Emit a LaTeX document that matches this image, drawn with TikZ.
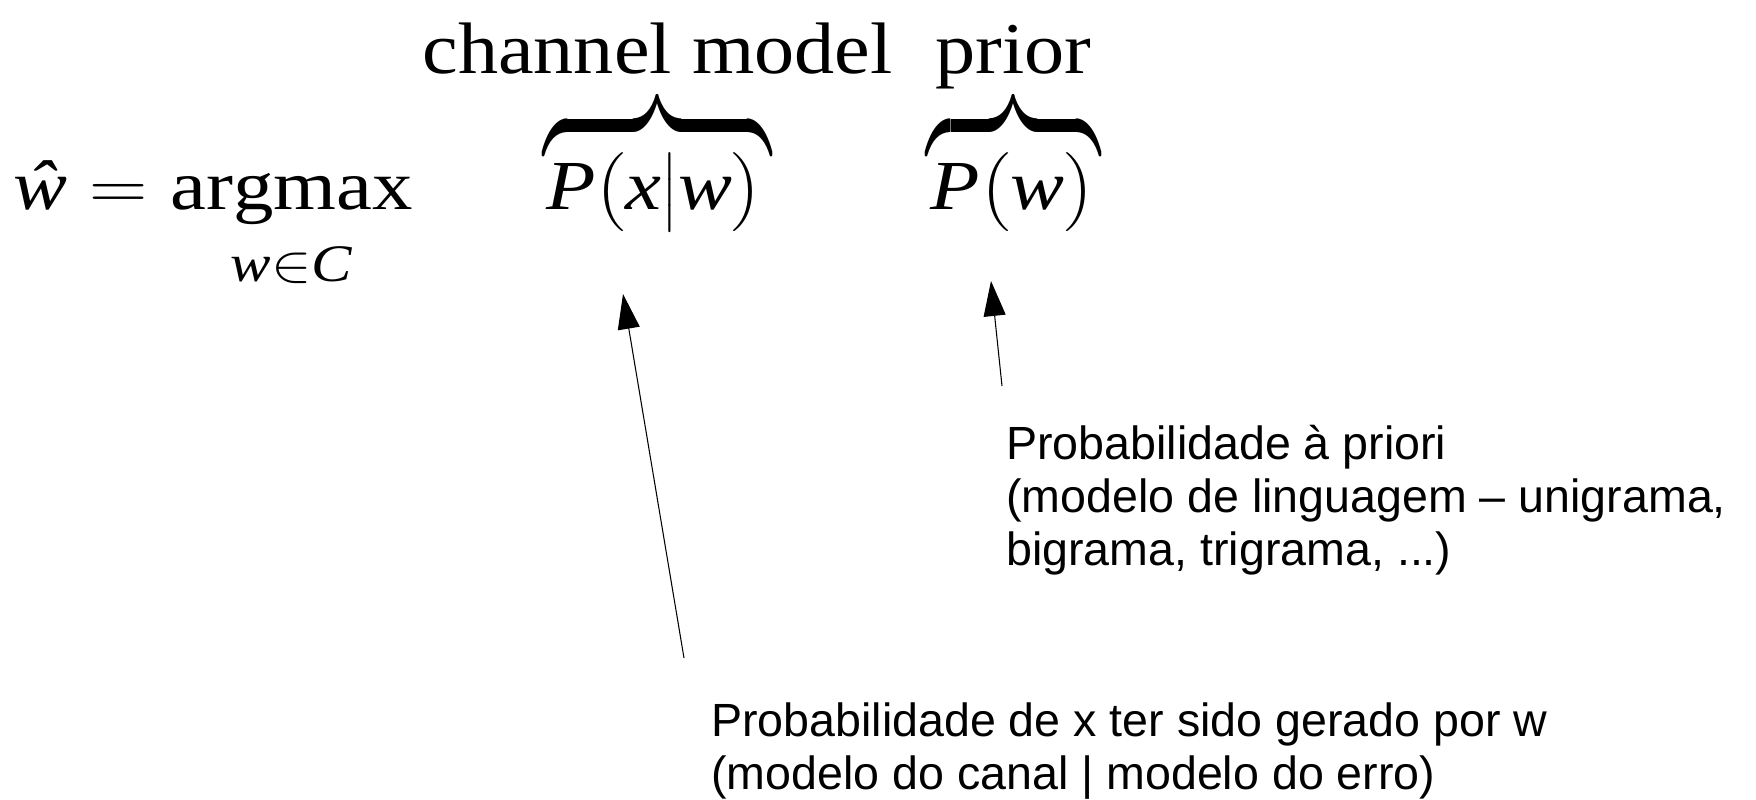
\RequirePackage{fix-cm}
\documentclass[tikz,border=0pt]{standalone}
\usepackage{amsmath}
\usepackage{fontspec}
\setmainfont{Liberation Serif}
\newfontfamily\notefont{Liberation Sans}
\usetikzlibrary{arrows.meta}
\begin{document}
\begin{tikzpicture}[
	formula/.style={inner sep=0pt, font=\fontsize{40}{48}\selectfont, xscale=1.15, transform shape},
	bracebox/.style={formula, xscale=1.06, yscale=2.6},
	lbl/.style={inner sep=0pt, font=\fontsize{41.5}{48}\selectfont, xscale=1.1, transform shape},
	note/.style={inner sep=0pt, align=left, font=\notefont\fontsize{26.5}{30.4}\selectfont},
	arr/.style={-{Triangle[length=0.7cm,width=0.44cm]}, line width=0.6pt}]
	\useasboundingbox (0,0) rectangle (35.12,16);
	% the formula
	\node[formula, anchor=base west] (lhs) at (0.26,11.8) {$\displaystyle\mbox{\itshape ŵ} = \operatorname*{argmax}_{\mbox{\fontsize{30}{30}\selectfont\rule{0pt}{28pt}$\mathit{w}{\in}\mathit{C}$}}$};
	\node[formula, anchor=base] (pxw) at (13.08,11.8) {$\mathit{P}\bigl(\mathit{x}\big|\mathit{w}\bigr)$};
	\node[formula, anchor=base] (pw) at (20.25,11.8) {$\mathit{P}\bigl(\mathit{w}\bigr)$};
	\node[bracebox, anchor=south] (brc1) at (13.15,13.06) {$\overbrace{\hphantom{\mathit{P}\bigl(\mathit{x}\big|\mathit{w}\bigr)}}$};
	\node[bracebox, anchor=south] (brc2) at (20.27,13.06) {$\overbrace{\hphantom{\mathit{P}\bigl(\mathit{w}\bigr)}}$};
	\node[lbl, anchor=base] (chanlbl) at (13.15,14.52) {channel model};
	\node[lbl, anchor=base] (priorlbl) at (20.27,14.52) {prior};
	% explanations (base = last line)
	\node[note, anchor=base west] (apriori) at (20.12,4.68) {Probabilidade à priori\\(modelo de linguagem – unigrama,\\bigrama, trigrama, ...)};
	\node[note, anchor=base west] (canal) at (14.22,0.2) {Probabilidade de x ter sido gerado por w\\(modelo do canal | modelo do erro)};
	% arrows
	\coordinate (s1) at (13.68,2.84); \coordinate (t1) at (12.46,10.12);
	\coordinate (s2) at (20.04,8.28); \coordinate (t2) at (19.82,10.38);
	\draw[arr] (s1) -- (t1);
	\draw[arr] (s2) -- (t2);
\end{tikzpicture}
\end{document}
